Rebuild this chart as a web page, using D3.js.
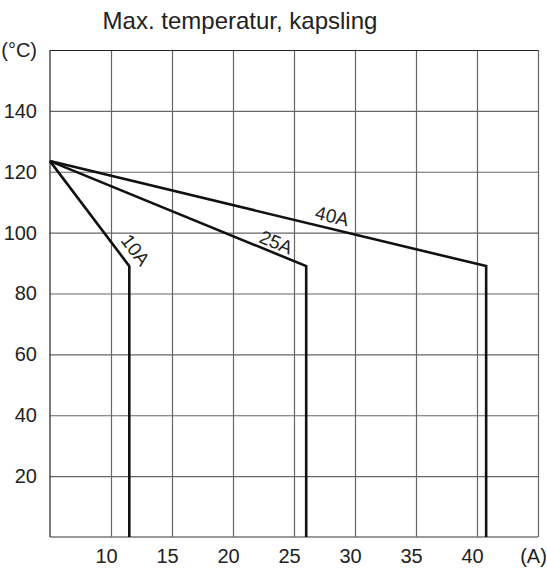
<!DOCTYPE html>
<html>
<head>
<meta charset="utf-8">
<script src="https://cdn.jsdelivr.net/npm/d3@7"></script>
<style>
  body { margin: 0; background: #fff; }
  svg { display: block; font-family: "Liberation Sans", Arial, sans-serif; }
</style>
</head>
<body>
<script>
const width = 547;
const height = 571;

// data
const series = ["10A", "25A", "40A"];
const startPoint = [5, 123.5];          // (A, °C) shared start
const kneeCurrent = [11.5, 26.0, 40.75]; // A at the knee
const kneeTemp = [89, 89, 89];           // °C at the knee
const labelAt = [0.93, 0.867, 0.64];     // where along the sloped part the label sits
const labelLift = [8, 4, 6];             // px above the line
const xTicks = [10, 15, 20, 25, 30, 35, 40, 45];
const xTickLabels = ["10", "15", "20", "25", "30", "35", "40", "(A)"];
const yTicks = [20, 40, 60, 80, 100, 120, 140, 160];
const yTickLabels = ["20", "40", "60", "80", "100", "120", "140", "(°C)"];

const x = d3.scaleLinear([5, 45], [50, 538]);
const y = d3.scaleLinear([0, 160], [537, 50]);

const svg = d3.select(document.body).append("svg")
    .attr("width", width)
    .attr("height", height);

svg.append("text")
    .attr("x", 240)
    .attr("y", 29)
    .attr("text-anchor", "middle")
    .attr("font-size", 24)
    .attr("fill", "#222")
    .text("Max. temperatur, kapsling");

// grid + labels through the axes
const gx = svg.append("g")
    .attr("transform", `translate(0,${y(0)})`)
    .call(d3.axisBottom(x)
        .tickValues(xTicks)
        .tickFormat((d, i) => xTickLabels[i])
        .tickSizeInner(-(y(0) - y(160)))
        .tickSizeOuter(0)
        .tickPadding(12));
gx.select(".domain").remove();
gx.selectAll("line").attr("stroke", "#666").attr("stroke-width", 1.2);
gx.selectAll("text")
    .attr("dx", -5)
    .attr("font-size", 20)
    .attr("fill", "#222")
    .attr("font-family", null);

const gy = svg.append("g")
    .attr("transform", `translate(${x(5)},0)`)
    .call(d3.axisLeft(y)
        .tickValues(yTicks)
        .tickFormat((d, i) => yTickLabels[i])
        .tickSizeInner(-(x(45) - x(5)))
        .tickSizeOuter(0)
        .tickPadding(13));
gy.select(".domain").remove();
gy.selectAll("line").attr("stroke", "#666").attr("stroke-width", 1.2);
gy.selectAll("text")
    .attr("font-size", 20)
    .attr("fill", "#222")
    .attr("font-family", null);
gy.selectAll(".tick").filter(d => d === 160).select("line").attr("stroke", "#222");

// bottom and left frame
svg.append("line")
    .attr("x1", x(5)).attr("x2", x(45))
    .attr("y1", y(0)).attr("y2", y(0))
    .attr("stroke", "#777").attr("stroke-width", 1.5);
svg.append("line")
    .attr("x1", x(5)).attr("x2", x(5))
    .attr("y1", y(0)).attr("y2", y(160))
    .attr("stroke", "#222").attr("stroke-width", 1.2);

const line = d3.line().x(d => x(d[0])).y(d => y(d[1]));

const curves = series.map((name, i) => ({
    name: name,
    pts: [startPoint, [kneeCurrent[i], kneeTemp[i]], [kneeCurrent[i], 0]],
    t: labelAt[i],
    lift: labelLift[i]
}));

svg.append("g")
    .selectAll("path")
    .data(curves)
    .join("path")
    .attr("d", d => line(d.pts))
    .attr("fill", "none")
    .attr("stroke", "#111")
    .attr("stroke-width", 2.6)
    .attr("stroke-linejoin", "miter");

svg.append("g")
    .selectAll("text")
    .data(curves)
    .join("text")
    .attr("transform", d => {
        const [a, b] = d.pts;
        const x0 = x(a[0]), y0 = y(a[1]), x1 = x(b[0]), y1 = y(b[1]);
        const px = x0 + (x1 - x0) * d.t, py = y0 + (y1 - y0) * d.t;
        const ang = Math.atan2(y1 - y0, x1 - x0) * 180 / Math.PI;
        return `translate(${px},${py}) rotate(${ang})`;
    })
    .attr("dy", d => -d.lift)
    .attr("text-anchor", "middle")
    .attr("font-size", 19)
    .attr("fill", "#222")
    .text(d => d.name);
</script>
</body>
</html>
